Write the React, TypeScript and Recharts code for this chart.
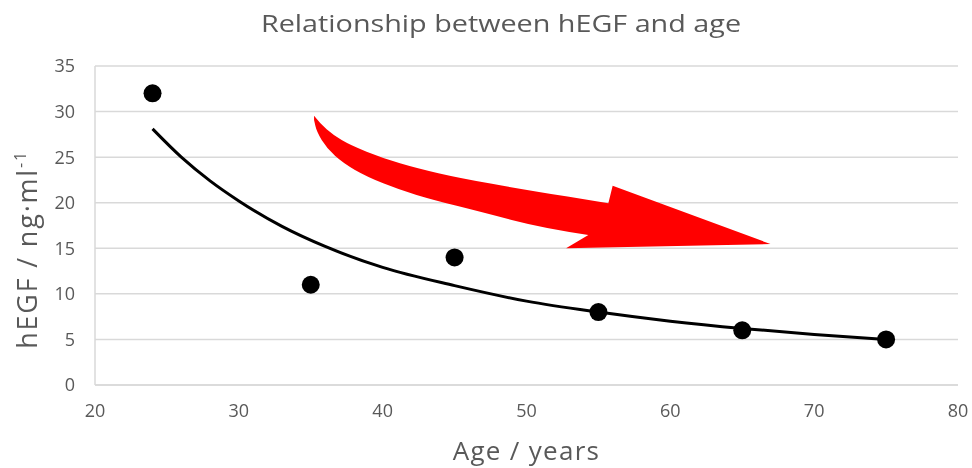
import { ScatterChart, Scatter, XAxis, YAxis, CartesianGrid } from "recharts";

const ageTicks = [20, 30, 40, 50, 60, 70, 80];
const egfTicks = [0, 5, 10, 15, 20, 25, 30, 35];

// measured points
const ages = [24, 35, 45, 55, 65, 75];
const egfValues = [32, 11, 14, 8, 6, 5];

// trend line
const trendAges = [24, 26, 28, 30, 33, 36, 40, 45, 50, 55, 60, 65, 70, 75];
const trendEgf = [28.1, 25.0, 22.4, 20.2, 17.4, 15.2, 12.9, 10.9, 9.2, 8.0, 7.0, 6.2, 5.55, 5.0];

// red arrow outline, in axis units (upper edge, head, lower edge back to tail)
const arrowX = [35.23, 35.64, 36.57, 37.73, 40.04, 42.37, 45.38, 50.01, 55.69, 55.99, 66.96, 52.75, 54.3, 51.17, 46.77, 43.52, 41.19, 38.89, 37.26, 36.11, 35.41, 35.23];
const arrowY = [29.55, 28.71, 27.43, 26.33, 24.87, 23.78, 22.68, 21.4, 19.94, 21.87, 15.47, 15.0, 16.46, 17.19, 19.01, 20.3, 21.4, 22.86, 24.33, 25.97, 27.79, 29.08];

const points = ages.map((age, i) => ({ age, egf: egfValues[i] }));
const trend = trendAges.map((age, i) => ({ age, egf: trendEgf[i] }));
const arrow = arrowX.map((age, i) => ({ age, egf: arrowY[i] }));

const FONT = "'Open Sans', sans-serif";
const GREY = "#595959";

const noDot = () => <g />;

// smooth run of points: quadratic through midpoints
function smoothRun(pts: { x: number; y: number }[]) {
  let d = "";
  for (let i = 1; i < pts.length - 1; i++) {
    const mx = (pts[i].x + pts[i + 1].x) / 2;
    const my = (pts[i].y + pts[i + 1].y) / 2;
    d += ` Q${pts[i].x},${pts[i].y} ${mx},${my}`;
  }
  const last = pts[pts.length - 1];
  return d + ` L${last.x},${last.y}`;
}

function ArrowShape(p: any) {
  const pts = p.points as { x: number; y: number }[];
  const upper = pts.slice(0, 9);
  const head = pts.slice(9, 12);
  const lower = pts.slice(12);
  const d =
    `M${upper[0].x},${upper[0].y}` +
    smoothRun(upper) +
    head.map((pt) => ` L${pt.x},${pt.y}`).join("") +
    ` L${lower[0].x},${lower[0].y}` +
    smoothRun(lower) +
    " Z";
  return <path d={d} fill="#ff0000" stroke="none" />;
}

export default function App() {
  return (
    <div style={{ position: "fixed", top: 0, left: 0, width: 972, height: 468, background: "#fff", fontFamily: FONT }}>
      <div
        style={{
          position: "absolute",
          top: 9,
          left: 0,
          width: 1002,
          textAlign: "center",
          fontSize: 23,
          lineHeight: "28px",
          color: GREY,
          transform: "scaleX(1.25)",
          transformOrigin: "501px 0",
        }}
      >
        Relationship between hEGF and age
      </div>
      <ScatterChart width={972} height={468} margin={{ top: 66, right: 14, bottom: 8, left: 35 }}>
        <CartesianGrid horizontal vertical={false} stroke="#d9d9d9" strokeWidth={1.5} />
        <XAxis
          type="number"
          dataKey="age"
          domain={[20, 80]}
          ticks={ageTicks}
          height={75}
          tickLine={false}
          tickSize={0}
          tickMargin={19}
          axisLine={{ stroke: "#d9d9d9", strokeWidth: 1.5 }}
          tick={{ fontSize: 18, fill: GREY, fontFamily: FONT }}
          label={{
            content: ({ viewBox }: any) => (
              <text
                x={viewBox.x + viewBox.width / 2}
                y={viewBox.y + 75}
                textAnchor="middle"
                fontSize={26}
                letterSpacing={1.3}
                fill={GREY}
                fontFamily={FONT}
              >
                Age / years
              </text>
            ),
          }}
        />
        <YAxis
          type="number"
          dataKey="egf"
          domain={[0, 35]}
          ticks={egfTicks}
          width={60}
          tickLine={false}
          tickSize={0}
          tickMargin={20}
          axisLine={{ stroke: "#d9d9d9", strokeWidth: 1.5 }}
          tick={{ fontSize: 18, fill: GREY, fontFamily: FONT }}
          label={{
            content: ({ viewBox }: any) => {
              const cx = viewBox.x + 2;
              const cy = viewBox.y + viewBox.height / 2 + 24;
              return (
                <text
                  x={cx}
                  y={cy}
                  transform={`rotate(-90 ${cx} ${cy})`}
                  textAnchor="middle"
                  fontSize={27}
                  letterSpacing={1.8}
                  fill={GREY}
                  fontFamily={FONT}
                >
                  hEGF / ng·ml
                  <tspan fontSize={16} dy={-11}>
                    -1
                  </tspan>
                </text>
              );
            },
          }}
        />
        <Scatter data={arrow} isAnimationActive={false} shape={noDot} line={ArrowShape} />
        <Scatter
          data={trend}
          isAnimationActive={false}
          shape={noDot}
          line={{ stroke: "#000", strokeWidth: 3 }}
          lineJointType="monotoneX"
          fill="#000"
        />
        <Scatter
          data={points}
          isAnimationActive={false}
          fill="#000"
          shape={(p: any) => <circle cx={p.cx} cy={p.cy} r={9} fill="#000" />}
        />
      </ScatterChart>
    </div>
  );
}
